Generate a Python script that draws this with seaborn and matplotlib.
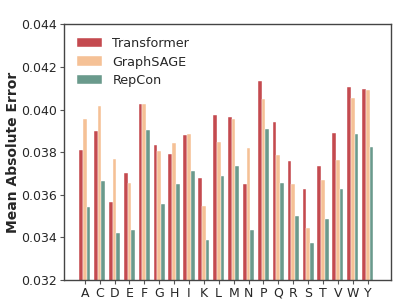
import matplotlib
matplotlib.use('Agg')
import matplotlib.pyplot as plt
import numpy as np
import pandas as pd
import seaborn as sns

# amino acids and the error of each model
residues = ['A', 'C', 'D', 'E', 'F', 'G', 'H', 'I', 'K', 'L',
            'M', 'N', 'P', 'Q', 'R', 'S', 'T', 'V', 'W', 'Y']
transformer = [0.03811, 0.03900, 0.03568, 0.03701, 0.04026, 0.03834, 0.03793, 0.03882, 0.03679, 0.03973,
               0.03964, 0.03653, 0.04134, 0.03942, 0.03761, 0.03625, 0.03736, 0.03889, 0.04107, 0.04098]
graphsage = [0.03955, 0.04017, 0.03770, 0.03655, 0.04026, 0.03805, 0.03842, 0.03886, 0.03548, 0.03850,
             0.03957, 0.03820, 0.04048, 0.03786, 0.03650, 0.03444, 0.03669, 0.03764, 0.04054, 0.04092]
repcon = [0.03545, 0.03664, 0.03420, 0.03436, 0.03904, 0.03558, 0.03651, 0.03712, 0.03389, 0.03689,
          0.03734, 0.03437, 0.03908, 0.03655, 0.03500, 0.03375, 0.03486, 0.03626, 0.03886, 0.03823]
models = ['Transformer', 'GraphSAGE', 'RepCon']
colors = ['#c44a4f', '#f5c196', '#6a9a8c']

df = pd.DataFrame({'residue': residues * 3,
                   'mae': transformer + graphsage + repcon,
                   'model': np.repeat(models, len(residues))})

sns.set_style('white')
plt.rcParams['font.family'] = ['DejaVu Sans']

fig, ax = plt.subplots(figsize=(4.07, 3.05), dpi=100)
fig.subplots_adjust(left=0.157, right=0.960, top=0.920, bottom=0.082)

sns.barplot(data=df, x='residue', y='mae', hue='model', palette=colors,
            width=0.75, edgecolor='white', linewidth=0.3, saturation=1, ax=ax)

ax.set_ylim(0.032, 0.044)
ax.set_yticks(np.arange(0.032, 0.0441, 0.002))
ax.set_yticklabels(['%.3f' % v for v in np.arange(0.032, 0.0441, 0.002)])
ax.set_xlim(-1.4, 20.55)
ax.set_xlabel('')
ax.set_ylabel('Mean Absolute Error', fontsize=10, fontweight='bold', labelpad=1)
ax.tick_params(axis='both', labelsize=9, length=3, width=0.8, color='#555555', direction='out',
               bottom=True, left=True, pad=2)
for s in ax.spines.values():
    s.set_color('#444444')
    s.set_linewidth(1.0)

ax.legend(loc='upper left', frameon=False, fontsize=9.2, title=None,
          borderaxespad=0.6, handlelength=2.0, handleheight=0.75, labelspacing=0.42)

plt.savefig('out.png', dpi=100)
